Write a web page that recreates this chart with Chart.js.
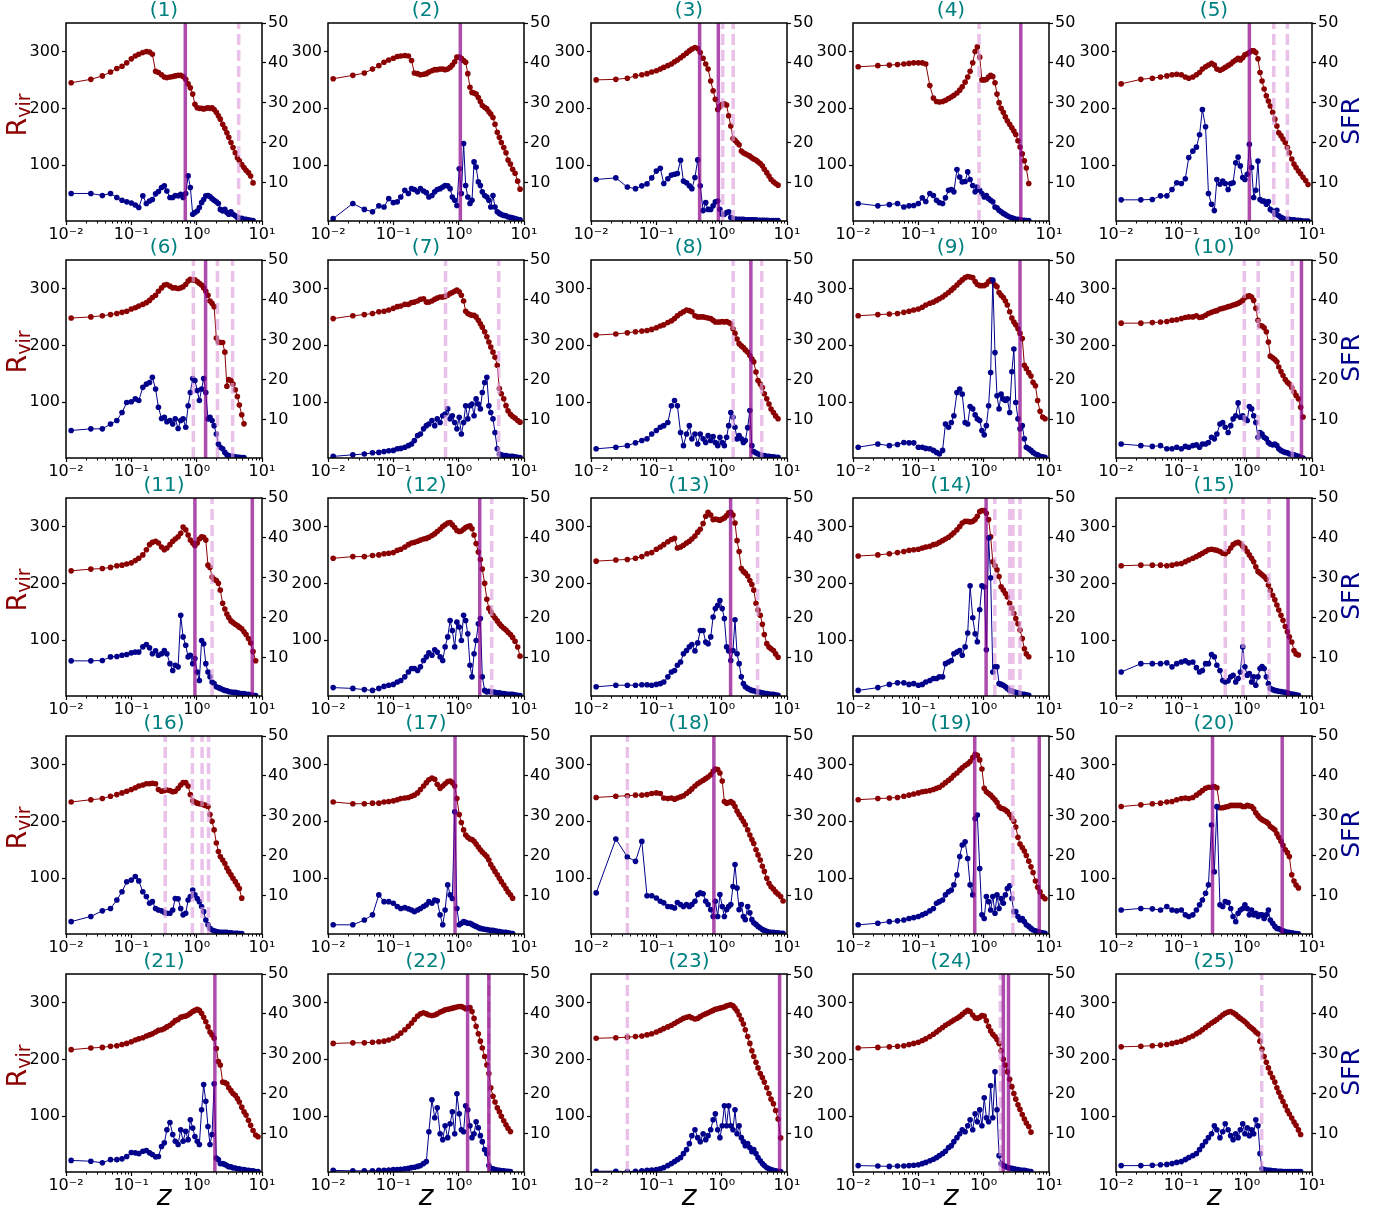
<!DOCTYPE html>
<html>
<head>
<meta charset="utf-8">
<script src="https://cdn.jsdelivr.net/npm/chart.js@4.4.1/dist/chart.umd.min.js"></script>
<style>
  html, body { margin: 0; padding: 0; background: #fff; }
  #fig { position: relative; width: 1385px; height: 1215px; overflow: hidden; }
  #fig canvas { position: absolute; }
</style>
</head>
<body>
<div id="fig"></div>
<script>
// snapshot redshifts shared by all halo tracks
const snapZ = [0.012,0.024,0.036,0.048,0.06,0.072,0.085,0.1,0.115,0.13,0.15,0.17,0.19,0.21,0.235,0.26,0.29,0.32,0.35,0.39,
  0.43,0.47,0.52,0.57,0.62,0.68,0.74,0.8,0.87,0.94,1.02,1.1,1.19,1.28,1.38,1.49,1.6,1.72,1.85,2.0,
  2.15,2.3,2.5,2.7,2.9,3.1,3.35,3.6,3.9,4.2,4.5,4.9,5.3,5.7,6.2,6.7,7.3,8.0,8.7];

// virial radius and star formation rate per halo, one value per snapshot
const rvir1 = [245,251,257,264,270,274,280,287,292,295,298,300,299,295,265,263,259,255,254,255,256,257,258,258,256,251,243,236,225,207,201,200,200,199,200,201,200,201,198,193,187,181,172,165,157,149,140,131,122,113,108,101,96,91,87,81,69];
const sfr1 = [7.3,7.3,6.8,7.3,6.3,5.6,5.2,4.9,4.4,3.8,6.7,4.8,5.4,5.8,7.2,7.8,8.8,9.2,7.9,6.3,6.3,6.8,6.7,7.1,6.3,7.3,11.7,8.8,2.1,2.5,2.9,3.8,5.0,5.8,6.7,6.8,6.5,6.0,5.6,5.2,4.8,3.3,2.9,3.3,2.5,2.1,2.7,2.1,1.7,1.3,1.1,1.1,0.8,0.8,0.7,0.6,0.5];
const rvir2 = [252,258,262,269,275,281,285,288,291,292,293,292,284,262,261,259,260,261,264,266,268,268,269,269,268,269,272,276,282,290,290,288,284,281,261,237,228,227,225,219,212,205,202,199,194,190,184,172,158,149,140,131,122,109,102,93,86,72,58];
const sfr2 = [1.0,4.8,3.3,2.7,4.2,3.9,6.0,5.0,5.2,6.4,8.1,7.3,8.5,8.3,7.7,8.5,7.9,7.5,6.4,6.8,7.7,8.3,8.5,8.9,9.3,9.2,8.5,6.4,5.6,4.3,13.5,7.3,19.8,9.3,6.4,4.8,5.6,15.2,13.9,10.2,9.3,7.7,6.8,6.4,5.6,3.9,6.8,3.9,2.7,2.3,2.0,1.8,1.7,1.4,1.3,1.2,1.0,0.8,0.7];
const rvir3 = [250,251,253,257,259,261,264,266,269,272,275,278,282,285,289,293,297,301,304,307,305,298,288,278,269,248,231,216,198,203,207,208,206,187,169,147,144,140,136,125,122,120,118,116,113,111,109,106,103,99,93,87,81,75,71,68,65];
const sfr3 = [10.8,11.2,8.9,8.5,9.2,9.7,11.2,12.9,13.6,9.8,11.0,11.9,12.1,12.3,15.6,10.4,10.0,9.2,8.5,11.3,15.7,9.2,3.0,5.0,3.3,3.3,4.2,5.2,5.4,3.3,2.1,2.1,2.5,2.7,1.3,0.9,0.9,0.8,0.8,0.8,0.8,0.7,0.7,0.7,0.7,0.7,0.7,0.6,0.6,0.6,0.6,0.6,0.5,0.5,0.5,0.5,0.5];
const rvir4 = [273,275,276,277,278,279,280,280,280,278,240,218,212,211,212,214,217,220,223,227,232,238,246,255,265,280,300,308,290,250,250,251,255,258,256,245,225,210,200,193,185,178,172,166,160,154,143,132,120,108,95,68];
const sfr4 = [4.8,4.2,4.5,4.8,3.9,4.2,4.3,4.8,6.2,5.3,7.3,6.8,5.6,5.0,4.8,6.2,8.1,8.3,7.7,13.3,11.4,10.2,10.3,12.7,10.8,9.3,7.7,8.9,8.1,7.3,6.4,6.8,6.0,5.6,5.2,3.9,3.7,3.1,2.7,2.3,2.0,1.7,1.4,1.2,1.0,0.8,0.8,0.7,0.6,0.6,0.5,0.5];
const rvir5 = [243,251,253,255,257,259,260,259,255,253,255,259,263,269,273,276,279,276,269,267,269,272,275,278,282,285,288,285,289,294,296,298,301,301,298,287,263,248,234,222,213,204,193,181,169,157,152,146,140,131,122,111,102,96,90,85,79,73,66];
const sfr5 = [5.7,5.7,5.8,6.7,6.7,8.3,10.0,9.8,11.0,16.3,17.9,18.9,22.0,28.3,24.0,7.3,4.6,3.0,10.8,9.6,10.4,9.8,8.3,9.8,10.0,15.0,16.4,14.2,11.3,10.8,12.1,19.6,13.8,6.3,8.1,15.4,5.8,5.4,5.4,4.6,5.3,3.3,2.9,2.1,3.1,1.7,1.3,1.1,0.8,0.8,0.8,0.7,0.7,0.6,0.6,0.5,0.4,0.4,0.4];
const rvir6 = [248,250,252,254,256,258,260,264,266,269,272,275,279,284,288,295,301,306,307,304,301,301,300,301,303,307,313,316,315,315,312,309,306,301,295,288,278,274,268,213,206,205,205,188,128,140,138,132,122,110,95,78,62];
const sfr6 = [7.3,7.7,7.7,8.9,9.8,11.8,14.3,14.5,15.2,14.8,18.1,18.9,19.3,20.6,17.7,13.1,10.3,10.6,9.5,9.8,8.9,10.2,7.8,9.8,10.2,8.1,13.5,16.8,20.3,19.8,17.3,14.8,17.7,20.3,16.8,10.2,10.6,9.8,8.5,6.4,3.9,3.1,2.7,1.8,1.2,1.0,0.8,0.8,0.7,0.6,0.6,0.5,0.5];
const rvir7 = [247,252,254,256,259,260,262,265,268,269,272,272,275,276,278,281,282,276,276,278,281,283,285,285,286,288,291,293,295,297,294,288,278,260,256,254,253,253,250,244,238,232,224,215,206,197,188,179,165,124,115,106,94,85,79,75,72,68,65];
const sfr7 = [0.8,1.2,1.4,1.7,1.8,2.0,2.2,2.3,2.7,2.8,3.1,3.5,3.9,4.8,6.0,6.4,7.7,8.5,8.9,9.8,8.5,10.2,9.3,11.0,11.4,12.7,10.2,11.0,9.3,7.7,10.6,6.4,9.3,13.5,10.2,13.5,13.9,11.0,15.2,13.9,12.7,16.8,19.3,20.6,13.5,11.8,10.2,6.8,2.7,1.4,1.2,1.0,1.0,0.8,0.8,0.8,0.7,0.6,0.5];
const rvir8 = [218,220,222,224,225,226,228,231,234,236,240,243,247,252,256,259,262,261,259,252,250,250,250,249,248,247,244,241,241,241,242,241,242,240,238,229,221,211,203,199,196,192,188,182,176,171,153,138,132,126,115,106,97,88,82,76,71];
const sfr8 = [2.7,3.1,3.5,4.2,4.8,5.2,6.4,7.3,8.1,8.5,9.3,13.5,14.8,13.5,6.8,3.5,6.4,8.5,5.2,6.4,3.9,6.4,5.2,4.3,6.0,4.8,5.8,4.3,3.5,5.6,4.3,3.5,5.6,8.5,11.8,10.6,8.1,5.2,6.0,5.2,4.3,4.8,8.0,12.3,3.5,2.0,1.7,1.4,1.2,1.0,1.0,0.8,0.8,0.7,0.7,0.6,0.6];
const rvir9 = [252,254,255,256,258,260,262,264,267,271,274,276,279,282,285,289,293,297,301,306,311,315,319,321,320,319,312,307,305,305,305,307,312,315,312,306,303,293,288,284,278,271,259,248,241,236,229,221,212,165,159,152,146,135,129,103,84,74,71];
const sfr9 = [3.1,3.9,3.5,3.8,4.3,4.2,4.2,3.1,3.1,2.8,2.7,2.3,1.8,1.4,2.3,8.9,8.1,9.3,11.0,16.8,17.7,16.4,9.3,8.9,13.3,12.7,11.2,10.2,9.8,7.3,6.2,8.5,13.5,21.8,45.0,26.8,16.0,12.7,16.4,15.2,14.8,15.2,11.8,22.0,27.7,14.3,10.2,7.7,8.5,5.2,3.1,2.7,2.3,1.8,1.4,1.2,0.8,0.7,0.6];
const rvir10 = [239,239,240,241,242,244,245,247,249,250,250,252,249,250,253,256,258,260,261,264,265,266,268,269,271,272,274,276,279,284,286,287,285,279,265,244,235,234,231,224,206,181,178,175,171,162,154,147,140,135,132,126,118,112,106,91,74];
const sfr10 = [3.9,3.5,3.3,3.5,2.7,2.7,3.1,2.7,3.3,3.1,3.5,3.7,3.1,3.9,3.9,4.3,5.6,5.2,6.4,8.9,9.3,8.1,6.8,8.5,10.2,11.0,14.2,10.6,11.0,10.2,9.8,13.3,12.7,11.0,9.3,5.6,6.8,6.4,5.6,5.2,4.3,3.9,3.7,3.9,3.5,2.7,2.3,2.0,1.8,1.7,1.4,1.3,1.2,1.0,0.8,0.6,0.4];
const rvir11 = [222,225,226,228,231,232,234,236,240,244,250,259,268,272,274,271,264,259,262,268,274,278,282,288,299,294,285,276,271,266,271,278,282,281,276,232,228,211,207,205,200,188,165,155,146,140,134,131,128,126,123,120,115,110,103,95,80,64];
const sfr11 = [9.2,9.2,9.3,10.2,10.3,10.6,10.8,11.2,11.4,11.4,12.7,13.3,12.5,11.0,11.7,10.6,11.0,11.8,11.0,8.5,6.8,8.1,7.7,20.6,15.2,13.1,10.2,10.6,8.5,9.8,6.4,4.3,14.3,13.5,8.5,6.4,5.2,3.9,3.5,2.7,2.5,2.3,2.0,1.8,1.7,1.5,1.4,1.3,1.3,1.2,1.1,1.0,1.0,0.8,0.8,0.7,0.6,0.5];
const rvir12 = [244,247,247,249,250,252,253,254,258,260,264,268,271,272,274,276,278,279,281,284,287,291,295,300,303,306,307,303,298,293,291,292,295,298,300,301,296,285,270,255,242,225,200,172,156,150,144,139,134,129,125,121,118,114,110,105,98,88,72];
const sfr12 = [2.5,2.3,2.0,1.8,2.3,2.8,3.1,3.3,3.9,4.3,5.2,6.4,7.3,7.3,6.8,7.7,9.3,10.2,11.2,10.6,12.0,11.4,10.2,9.3,12.7,15.2,19.3,16.8,12.7,18.9,17.7,14.3,20.6,19.3,16.0,8.1,5.2,11.0,14.3,18.5,19.8,5.2,1.8,1.4,1.6,1.4,1.4,1.3,1.2,1.2,1.0,1.0,0.9,0.8,0.8,0.8,0.7,0.6,0.5];
const rvir13 = [239,241,242,244,247,252,254,260,264,268,273,277,279,262,264,267,271,274,278,283,290,295,305,318,325,320,312,313,312,311,313,315,319,324,325,320,306,275,256,226,221,218,213,205,198,188,165,153,144,128,110,94,88,85,82,76,70];
const sfr13 = [2.7,3.1,3.1,3.1,3.2,3.2,3.1,3.3,3.5,3.9,5.2,6.4,6.8,8.1,8.9,11.0,11.8,12.7,13.3,11.7,13.7,16.8,16.8,13.9,13.5,15.2,20.2,22.3,23.1,24.3,22.3,19.8,12.7,11.7,9.3,11.8,19.5,11.0,8.5,5.2,3.5,2.7,2.3,2.0,1.8,1.7,1.5,1.4,1.3,1.2,1.1,1.0,0.9,0.8,0.8,0.7,0.6];
const rvir14 = [248,250,252,254,256,258,259,260,262,264,265,268,269,272,275,278,281,285,289,294,300,306,309,309,308,309,312,318,326,328,328,323,312,282,238,231,224,212,194,188,182,176,165,156,147,138,129,118,103,85,76,71];
const sfr14 = [1.8,2.5,3.3,3.7,3.7,3.3,3.5,3.1,3.3,3.9,4.3,4.8,4.8,5.2,5.2,8.5,8.9,9.3,11.0,11.4,11.8,10.6,12.7,16.2,28.0,20.0,16.0,14.0,22.0,28.0,27.7,12.0,40.0,30.0,6.4,7.7,7.7,3.5,3.3,3.1,2.7,2.3,1.8,1.7,1.4,1.3,1.2,1.0,0.8,0.8,0.7,0.6];
const rvir15 = [231,232,232,232,231,232,234,235,238,241,244,247,250,253,256,259,260,259,258,256,253,252,256,262,268,271,272,270,265,262,256,250,244,238,229,221,218,215,212,207,197,188,179,171,162,153,144,135,124,115,106,97,82,76,74];
const sfr15 = [6.4,8.5,8.5,8.5,8.7,7.7,8.5,8.9,9.2,8.7,8.9,7.5,6.4,6.8,8.5,8.5,10.8,10.2,8.1,6.8,4.3,3.9,4.2,5.2,5.6,3.9,4.8,6.4,12.7,7.7,5.6,6.0,3.9,5.2,3.1,5.2,7.3,7.8,7.3,5.2,3.5,2.3,2.0,1.8,1.7,1.6,1.5,1.4,1.3,1.2,1.0,0.9,0.8,0.7,0.6];
const rvir16 = [234,238,240,244,247,250,253,256,259,262,264,266,266,267,266,256,253,254,255,254,252,253,258,264,268,268,262,247,236,234,232,231,231,229,228,226,212,200,185,162,147,138,132,126,118,112,106,100,94,88,82,65];
const sfr16 = [3.5,4.8,6.2,6.8,8.9,11.0,13.5,13.9,14.8,13.7,11.0,9.8,8.1,8.5,6.8,6.4,6.2,5.8,5.6,5.6,6.4,9.3,9.2,6.8,5.2,5.6,8.9,9.8,11.4,10.2,9.3,8.5,7.3,6.0,3.9,2.7,1.8,1.4,1.2,1.0,0.9,0.8,0.8,0.8,0.8,0.7,0.7,0.6,0.6,0.6,0.5,0.5];
const rvir17 = [234,231,231,232,232,234,235,236,238,240,241,242,244,246,250,256,262,268,273,276,274,265,258,262,266,270,271,268,262,240,212,198,185,176,172,169,168,165,160,155,150,146,142,138,132,124,118,112,106,100,94,88,82,76,71,65];
const sfr17 = [2.7,2.7,3.9,5.2,10.2,8.5,8.5,8.1,7.3,6.8,7.0,6.7,6.4,6.0,6.4,6.8,7.3,7.7,8.5,8.1,8.9,8.7,5.2,2.7,6.4,12.7,10.2,9.3,31.0,6.8,2.7,3.1,3.5,3.3,3.1,3.1,2.8,2.5,2.3,2.0,1.8,1.7,1.6,1.5,1.4,1.3,1.3,1.2,1.1,1.0,0.9,0.8,0.8,0.7,0.6,0.5];
const rvir18 = [242,244,245,246,246,247,249,250,249,241,240,241,239,241,243,245,249,253,257,262,266,269,272,275,278,282,288,292,291,285,271,235,232,233,235,232,226,218,212,206,200,194,185,176,168,161,150,141,132,121,112,100,91,85,81,76,72,68,60];
const sfr18 = [10.7,24.2,19.7,18.6,23.6,10.0,10.0,9.4,8.6,8.2,7.3,7.2,6.9,8.3,7.8,7.3,7.8,7.3,7.8,8.6,10.3,10.7,10.5,8.6,7.8,6.5,4.8,8.6,4.8,10.3,7.3,4.8,6.5,7.3,7.8,12.3,17.8,11.9,6.5,7.8,4.8,4.0,7.3,5.7,4.0,3.2,2.8,2.3,1.9,1.5,1.3,1.1,0.9,0.8,0.8,0.7,0.7,0.6,0.6];
const rvir19 = [238,240,241,242,244,246,248,250,252,253,254,256,258,260,264,268,272,276,281,285,290,294,298,301,305,312,318,316,308,292,258,252,249,246,242,238,233,226,223,222,220,217,212,206,200,190,172,160,154,148,140,130,120,110,95,84,76,68,64];
const sfr19 = [2.7,3.1,3.5,3.7,3.9,4.3,4.5,4.8,5.2,5.6,6.2,6.8,8.1,8.5,8.9,10.2,11.0,11.4,12.7,15.2,19.8,22.7,23.5,19.3,12.7,10.2,29.3,30.2,16.8,5.2,4.3,9.8,8.5,6.4,9.8,5.6,10.2,6.8,9.3,8.1,10.2,11.8,12.5,9.3,6.0,6.0,4.8,3.9,4.3,3.5,2.7,2.3,1.8,1.4,1.2,1.0,0.8,0.7,0.6];
const rvir20 = [226,229,231,232,234,235,238,240,241,240,242,246,250,254,258,260,260,261,259,224,224,225,226,228,228,228,228,228,226,226,228,227,226,222,215,210,206,203,201,199,196,191,188,185,178,172,165,158,150,145,138,106,95,88,83];
const sfr20 = [6.4,6.8,6.7,6.4,7.3,6.4,6.2,6.4,5.2,4.8,5.2,6.4,7.7,8.9,10.6,12.7,27.7,16.0,32.3,7.7,7.3,8.5,8.3,6.8,4.8,3.5,5.6,6.4,6.8,7.7,6.8,5.2,6.4,5.2,5.6,4.8,5.2,5.2,4.3,5.2,6.4,3.9,3.1,2.3,1.8,1.7,1.4,1.2,1.0,0.8,0.8,0.7,0.6,0.5,0.45];
const rvir21 = [217,220,221,223,224,226,228,231,234,236,238,241,243,245,248,251,252,254,257,260,264,268,270,274,275,276,278,281,284,286,288,286,281,274,266,257,248,243,237,219,196,190,160,159,157,150,145,140,137,131,125,116,108,102,93,84,75,67,64];
const sfr21 = [3.3,3.1,2.7,3.5,3.5,3.7,4.3,5.3,5.2,5.0,5.6,5.8,5.2,4.8,4.2,4.3,6.8,7.7,11.0,12.8,9.8,8.1,7.3,11.0,8.1,10.6,8.5,13.5,11.4,9.3,8.1,7.3,16.0,22.3,18.1,11.8,7.3,9.8,22.5,3.9,3.5,2.5,2.5,2.3,2.0,1.7,1.7,1.4,1.4,1.2,1.2,1.0,1.0,0.8,0.8,0.7,0.7,0.5,0.5];
const rvir22 = [228,229,229,230,231,232,234,237,241,246,252,258,264,270,276,280,282,280,278,277,278,280,283,285,287,288,289,290,291,292,293,293,291,289,290,291,284,272,258,245,232,220,205,190,175,150,135,125,115,108,100,92,85,79,73];
const sfr22 = [0.8,0.7,0.7,0.7,0.8,0.8,0.9,1.0,1.0,1.1,1.2,1.3,1.5,1.6,1.8,2.0,2.5,3.0,10.5,18.5,14.0,16.5,10.0,8.5,12.0,9.0,12.5,15.5,10.0,20.0,15.0,11.0,10.5,17.0,16.0,12.0,9.0,10.0,13.0,11.5,9.5,8.0,6.0,5.0,2.0,1.3,1.2,1.0,0.9,0.8,0.7,0.7,0.6,0.6,0.5];
const rvir23 = [237,238,239,240,241,243,245,248,251,254,257,260,263,266,269,272,274,275,273,271,272,275,278,280,282,284,286,288,289,290,291,292,294,295,296,294,290,285,278,270,262,252,240,228,215,205,195,185,175,168,160,150,140,130,122,110,95,62];
const sfr23 = [0.6,0.6,0.5,0.6,0.7,0.8,0.9,1.0,1.2,1.5,2.0,2.5,3.0,3.5,4.0,5.0,6.0,7.5,9.5,11.0,9.0,8.0,10.0,8.5,9.5,11.0,13.5,15.0,11.0,9.0,12.0,17.0,12.0,17.0,12.0,11.0,16.0,10.0,12.0,9.0,8.0,7.0,7.5,6.5,5.5,6.0,5.0,4.0,3.2,2.5,2.0,1.5,1.2,1.0,0.8,0.7,0.6,0.5];
const rvir24 = [220,221,222,223,224,226,228,230,233,236,240,244,248,252,256,260,263,266,269,272,275,279,283,286,284,278,273,272,274,277,276,268,258,250,244,240,235,228,215,200,190,178,165,152,140,130,120,112,103,95,88,82,72];
const sfr24 = [2.0,1.9,1.8,1.9,1.9,2.0,2.1,2.2,2.5,2.8,3.2,3.6,4.0,4.5,5.0,5.6,6.5,7.0,8.0,9.0,10.0,11.0,10.5,12.0,13.5,11.0,15.0,13.0,16.0,12.0,19.0,14.0,13.0,22.0,14.0,25.5,16.0,4.5,2.5,2.0,1.8,1.6,1.4,1.3,1.2,1.1,1.0,0.9,0.8,0.8,0.7,0.6,0.5];
const rvir25 = [222,223,224,225,226,228,230,232,235,238,241,245,248,252,256,260,264,267,270,274,278,281,283,284,282,279,275,272,269,266,262,258,255,252,248,245,232,218,205,195,185,176,168,160,150,142,134,126,118,110,104,97,90,84,76,68];
const sfr25 = [2.0,2.0,2.1,2.2,2.3,2.5,2.8,3.0,3.5,4.0,4.5,5.0,6.0,7.0,8.0,9.0,10.0,12.0,11.0,9.0,10.5,12.5,11.0,9.5,8.5,10.0,9.0,11.0,12.5,10.0,11.5,9.5,11.0,10.0,13.5,12.0,5.0,1.2,1.0,0.9,0.8,0.8,0.7,0.7,0.6,0.6,0.6,0.5,0.5,0.5,0.5,0.5,0.5,0.5,0.5,0.5];

// redshifts of the marked events, per halo
const solidZ = [[0.67],[1.06],[0.46,0.89],[3.7],[1.1],[1.37],[],[2.8],[3.6],[6.9],
  [0.94,7.1],[2.1],[1.37],[1.09],[4.3],[],[0.88],[0.76],[0.73,7.1],[0.3,3.5],
  [1.9],[1.37,2.9],[7.7],[2.0,2.4],[]];
const dashedZ = [[4.4],[],[1.04,1.5],[0.85],[2.6,4.2],[0.89,2.08,3.55],[0.63,4.1],[1.5,4.1],[],[0.92,1.5,5.0],
  [1.72],[3.2],[3.55],[1.48,2.5,2.8,3.6],[0.47,0.88,2.2],[0.33,0.86,1.21,1.52],[],[0.036],[2.8],[],
  [],[2.9],[0.036],[1.8],[1.7]];

const xTicks = [0.01, 0.1, 1, 10];
const xTickText = ['10\u207B\u00B2', '10\u207B\u00B9', '10\u2070', '10\u00B9'];
const rvirTicks = [100, 200, 300];
const sfrTicks = [10, 20, 30, 40, 50];

const RVIR_MIN = 2, RVIR_MAX = 350;
const SFR_MIN = 0.4, SFR_MAX = 50;
const FONT = '"DejaVu Sans", sans-serif';

const tracks = [
  [rvir1, sfr1], [rvir2, sfr2], [rvir3, sfr3], [rvir4, sfr4], [rvir5, sfr5],
  [rvir6, sfr6], [rvir7, sfr7], [rvir8, sfr8], [rvir9, sfr9], [rvir10, sfr10],
  [rvir11, sfr11], [rvir12, sfr12], [rvir13, sfr13], [rvir14, sfr14], [rvir15, sfr15],
  [rvir16, sfr16], [rvir17, sfr17], [rvir18, sfr18], [rvir19, sfr19], [rvir20, sfr20],
  [rvir21, sfr21], [rvir22, sfr22], [rvir23, sfr23], [rvir24, sfr24], [rvir25, sfr25]
];

function points(values) {
  return values.map((v, i) => ({x: snapZ[i], y: v}));
}

// box around the plot area plus the minor ticks of the log axis
const framePlugin = {
  id: 'frame',
  afterDatasetsDraw(chart) {
    const {ctx, chartArea: a} = chart;
    const xs = chart.scales.x;
    ctx.save();
    ctx.strokeStyle = '#000';
    ctx.lineWidth = 1.5;
    ctx.strokeRect(a.left, a.top, a.right - a.left, a.bottom - a.top);
    ctx.lineWidth = 1;
    for (let e = -2; e < 1; e++) {
      for (let m = 2; m < 10; m++) {
        const px = Math.round(xs.getPixelForValue(m * Math.pow(10, e))) + 0.5;
        ctx.beginPath();
        ctx.moveTo(px, a.bottom);
        ctx.lineTo(px, a.bottom + 2.5);
        ctx.stroke();
      }
    }
    ctx.restore();
  }
};

// R_vir / SFR / z axis names, drawn only on the outer panels
const axisNamesPlugin = {
  id: 'axisNames',
  afterDraw(chart, args, opts) {
    const {ctx, chartArea: a} = chart;
    ctx.save();
    ctx.textBaseline = 'alphabetic';
    if (opts.left) {
      ctx.save();
      ctx.translate(a.left - 40, a.top + 92);
      ctx.rotate(-Math.PI / 2);
      ctx.fillStyle = '#8b0000';
      ctx.font = '27px ' + FONT;
      const wR = ctx.measureText('R').width;
      ctx.font = '19px ' + FONT;
      const wSub = ctx.measureText('vir').width;
      const x0 = -(wR + wSub) / 2;
      ctx.font = '27px ' + FONT;
      ctx.fillText('R', x0, 0);
      ctx.font = '19px ' + FONT;
      ctx.fillText('vir', x0 + wR, 4);
      ctx.restore();
    }
    if (opts.right) {
      ctx.save();
      ctx.translate(a.right + 47, a.top + 98);
      ctx.rotate(-Math.PI / 2);
      ctx.fillStyle = '#00008b';
      ctx.font = '25px ' + FONT;
      ctx.textAlign = 'center';
      ctx.fillText('SFR', 0, 0);
      ctx.restore();
    }
    if (opts.bottom) {
      ctx.fillStyle = '#000';
      ctx.font = 'italic 28px ' + FONT;
      ctx.textAlign = 'center';
      ctx.textBaseline = 'middle';
      ctx.fillText('z', (a.left + a.right) / 2, a.bottom + 26);
    }
    ctx.restore();
  }
};

const colLeft = [66, 328, 591, 853, 1116];
const rowTop = [23, 260, 498, 736, 974];
const PW = 196, PH = 198, SIDE = 66, HEAD = 24;
const fig = document.getElementById('fig');

tracks.forEach(([rvir, sfr], k) => {
  const col = k % 5, row = Math.floor(k / 5);
  const lastRow = row === 4;
  const canvas = document.createElement('canvas');
  canvas.width = PW + 2 * SIDE;
  canvas.height = HEAD + PH + (lastRow ? 50 : 30);
  canvas.style.left = (colLeft[col] - SIDE) + 'px';
  canvas.style.top = (rowTop[row] - HEAD) + 'px';
  fig.appendChild(canvas);

  const markers = [];
  solidZ[k].forEach(z => markers.push({
    data: [{x: z, y: RVIR_MIN}, {x: z, y: RVIR_MAX}],
    yAxisID: 'y', borderColor: 'rgba(139,0,139,0.7)', borderWidth: 3.5,
    pointRadius: 0, order: 0
  }));
  dashedZ[k].forEach(z => markers.push({
    data: [{x: z, y: RVIR_MIN}, {x: z, y: RVIR_MAX}],
    yAxisID: 'y', borderColor: 'rgba(221,160,221,0.65)', borderWidth: 3.5,
    borderDash: [11, 5], pointRadius: 0, order: 0
  }));

  const tickFont = {family: FONT, size: 16};
  const tickGrid = {display: true, drawOnChartArea: false, drawTicks: true,
    tickLength: 4, tickColor: '#000', tickWidth: 1.2};

  new Chart(canvas, {
    type: 'line',
    data: {
      datasets: [
        ...markers,
        {
          label: 'SFR', data: points(sfr), yAxisID: 'y2',
          borderColor: '#00008b', backgroundColor: '#00008b', borderWidth: 1,
          pointRadius: 2.8, pointBorderWidth: 0, tension: 0, order: 1
        },
        {
          label: 'Rvir', data: points(rvir), yAxisID: 'y',
          borderColor: '#8b0000', backgroundColor: '#8b0000', borderWidth: 1,
          pointRadius: 2.8, pointBorderWidth: 0, tension: 0, order: 2
        }
      ]
    },
    options: {
      responsive: false,
      animation: false,
      devicePixelRatio: 1,
      events: [],
      layout: {padding: 0},
      plugins: {
        legend: {display: false},
        tooltip: {enabled: false},
        title: {
          display: true, text: '(' + (k + 1) + ')', color: '#008080',
          font: {family: FONT, size: 20, weight: 'normal'}, padding: 0
        },
        axisNames: {left: col === 0, right: col === 4, bottom: lastRow}
      },
      scales: {
        x: {
          type: 'logarithmic', min: 0.01, max: 10,
          afterBuildTicks: s => { s.ticks = xTicks.map(v => ({value: v})); },
          afterFit: s => { s.height = lastRow ? 50 : 30; },
          ticks: {
            font: tickFont, color: '#000', padding: 0, maxRotation: 0, autoSkip: false,
            callback: v => xTickText[Math.round(Math.log10(v)) + 2]
          },
          grid: tickGrid,
          border: {display: false}
        },
        y: {
          type: 'linear', position: 'left', min: RVIR_MIN, max: RVIR_MAX,
          afterBuildTicks: s => { s.ticks = rvirTicks.map(v => ({value: v})); },
          afterFit: s => { s.width = SIDE; },
          ticks: {font: tickFont, color: '#000', padding: 2, callback: v => String(v)},
          grid: tickGrid,
          border: {display: false}
        },
        y2: {
          type: 'linear', position: 'right', min: SFR_MIN, max: SFR_MAX,
          afterBuildTicks: s => { s.ticks = sfrTicks.map(v => ({value: v})); },
          afterFit: s => { s.width = SIDE; },
          ticks: {font: tickFont, color: '#000', padding: 2, callback: v => String(v)},
          grid: tickGrid,
          border: {display: false}
        }
      }
    },
    plugins: [framePlugin, axisNamesPlugin]
  });
});
</script>
</body>
</html>
